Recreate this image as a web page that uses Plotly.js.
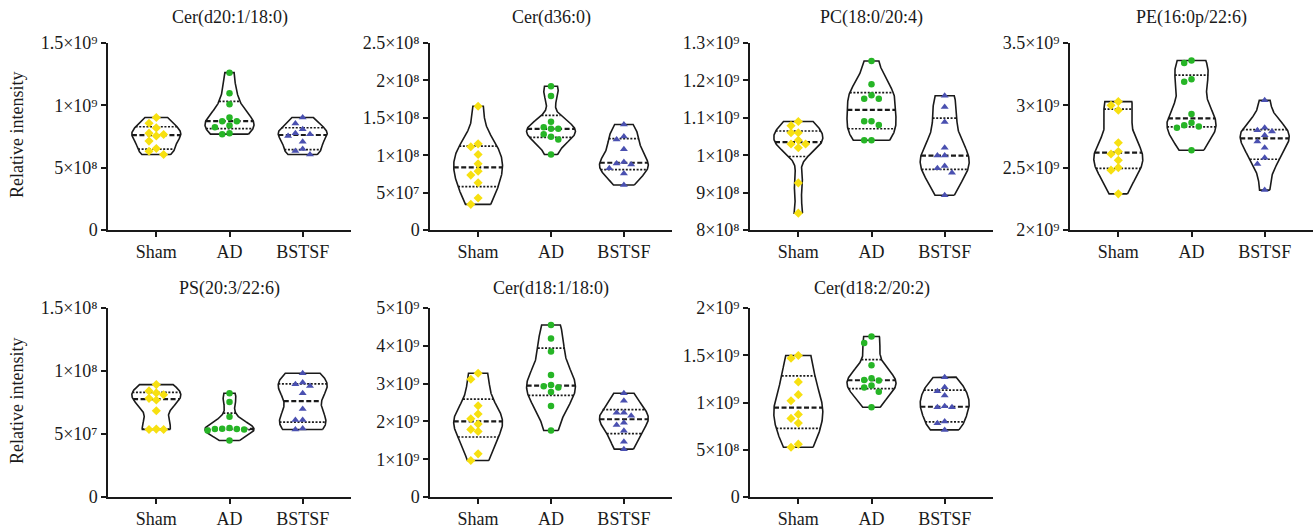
<!DOCTYPE html>
<html><head><meta charset="utf-8">
<script src="https://cdn.plot.ly/plotly-3.0.1.min.js"></script>
<style>html,body{margin:0;padding:0;background:#fff}#chart{width:1316px;height:531px}</style>
</head><body><div id="chart"></div>
<script>
// ---------- data ----------
const groups = ['Sham', 'AD', 'BSTSF'];
const yTitle = 'Relative intensity';

const cerD20_1_18_0_sham  = [9.02e8, 8.56e8, 8.19e8, 7.77e8, 7.66e8, 7.55e8, 7.13e8, 6.54e8, 6.32e8, 6.06e8];
const cerD20_1_18_0_ad    = [1.262e9, 1.097e9, 1.009e9, 9.02e8, 8.73e8, 8.73e8, 8.38e8, 8.25e8, 7.77e8, 7.69e8];
const cerD20_1_18_0_bstsf = [9.02e8, 8.54e8, 8.09e8, 7.77e8, 7.69e8, 7.55e8, 7.07e8, 6.49e8, 6.33e8, 6.06e8];

const cerD36_0_sham  = [1.655e8, 1.152e8, 1.112e8, 1.010e8, 8.85e7, 7.87e7, 7.34e7, 6.32e7, 4.27e7, 3.43e7];
const cerD36_0_ad    = [1.922e8, 1.793e8, 1.446e8, 1.375e8, 1.352e8, 1.352e8, 1.281e8, 1.246e8, 1.210e8, 1.010e8];
const cerD36_0_bstsf = [1.411e8, 1.251e8, 1.211e8, 1.081e8, 9.08e7, 8.90e7, 8.77e7, 8.24e7, 7.57e7, 6.01e7];

const pc18_0_20_4_sham  = [1.090e9, 1.079e9, 1.060e9, 1.060e9, 1.040e9, 1.030e9, 1.030e9, 1.020e9, 9.26e8, 8.45e8];
const pc18_0_20_4_ad    = [1.252e9, 1.190e9, 1.160e9, 1.151e9, 1.151e9, 1.091e9, 1.091e9, 1.081e9, 1.040e9, 1.040e9];
const pc18_0_20_4_bstsf = [1.159e9, 1.129e9, 1.089e9, 1.020e9, 9.99e8, 9.99e8, 9.71e8, 9.65e8, 9.53e8, 8.93e8];

const pe16_0p_22_6_sham  = [3.03e9, 3.00e9, 2.96e9, 2.70e9, 2.63e9, 2.61e9, 2.56e9, 2.50e9, 2.48e9, 2.29e9];
const pe16_0p_22_6_ad    = [3.36e9, 3.34e9, 3.21e9, 3.19e9, 2.93e9, 2.86e9, 2.84e9, 2.83e9, 2.82e9, 2.64e9];
const pe16_0p_22_6_bstsf = [3.04e9, 2.82e9, 2.80e9, 2.79e9, 2.76e9, 2.71e9, 2.66e9, 2.58e9, 2.53e9, 2.32e9];

const ps20_3_22_6_sham  = [8.92e7, 8.42e7, 8.26e7, 8.12e7, 7.83e7, 7.70e7, 6.85e7, 5.39e7, 5.36e7, 5.36e7];
const ps20_3_22_6_ad    = [8.23e7, 7.54e7, 6.37e7, 5.47e7, 5.41e7, 5.39e7, 5.39e7, 5.36e7, 5.28e7, 4.49e7];
const ps20_3_22_6_bstsf = [9.82e7, 9.08e7, 8.95e7, 8.81e7, 8.23e7, 6.98e7, 6.11e7, 6.11e7, 5.44e7, 5.36e7];

const cerD18_1_18_0_sham  = [3.274e9, 3.115e9, 2.416e9, 2.195e9, 2.071e9, 1.929e9, 1.788e9, 1.735e9, 1.142e9, 9.65e8];
const cerD18_1_18_0_ad    = [4.549e9, 4.195e9, 3.850e9, 3.230e9, 2.965e9, 2.930e9, 2.900e9, 2.779e9, 2.407e9, 1.761e9];
const cerD18_1_18_0_bstsf = [2.745e9, 2.549e9, 2.230e9, 2.230e9, 2.150e9, 1.965e9, 1.903e9, 1.752e9, 1.460e9, 1.266e9];

const cerD18_2_20_2_sham  = [1.497e9, 1.469e9, 1.218e9, 1.083e9, 1.019e9, 8.74e8, 8.32e8, 7.82e8, 5.59e8, 5.27e8];
const cerD18_2_20_2_ad    = [1.699e9, 1.629e9, 1.395e9, 1.257e9, 1.239e9, 1.232e9, 1.179e9, 1.158e9, 1.115e9, 9.49e8];
const cerD18_2_20_2_bstsf = [1.268e9, 1.162e9, 1.120e9, 1.073e9, 9.60e8, 9.50e8, 9.50e8, 8.00e8, 7.80e8, 7.10e8];

// tick values / labels
const ticks1 = [0, 5e8, 1e9, 1.5e9];
const labels1 = ['0', '5×10⁸', '1×10⁹', '1.5×10⁹'];
const ticks2 = [0, 5e7, 1e8, 1.5e8, 2e8, 2.5e8];
const labels2 = ['0', '5×10⁷', '1×10⁸', '1.5×10⁸', '2×10⁸', '2.5×10⁸'];
const ticks3 = [8e8, 9e8, 1e9, 1.1e9, 1.2e9, 1.3e9];
const labels3 = ['8×10⁸', '9×10⁸', '1×10⁸', '1.1×10⁹', '1.2×10⁹', '1.3×10⁹'];
const ticks4 = [2e9, 2.5e9, 3e9, 3.5e9];
const labels4 = ['2×10⁹', '2.5×10⁹', '3×10⁹', '3.5×10⁹'];
const ticks5 = [0, 5e7, 1e8, 1.5e8];
const labels5 = ['0', '5×10⁷', '1×10⁸', '1.5×10⁸'];
const ticks6 = [0, 1e9, 2e9, 3e9, 4e9, 5e9];
const labels6 = ['0', '1×10⁹', '2×10⁹', '3×10⁹', '4×10⁹', '5×10⁹'];
const ticks7 = [0, 5e8, 1e9, 1.5e9, 2e9];
const labels7 = ['0', '5×10⁸', '1×10⁹', '1.5×10⁹', '2×10⁹'];

const panels = [
  {title: 'Cer(d20:1/18:0)', data: [cerD20_1_18_0_sham, cerD20_1_18_0_ad, cerD20_1_18_0_bstsf], tv: ticks1, tt: labels1, row: 0, col: 0},
  {title: 'Cer(d36:0)',      data: [cerD36_0_sham, cerD36_0_ad, cerD36_0_bstsf],                tv: ticks2, tt: labels2, row: 0, col: 1},
  {title: 'PC(18:0/20:4)',   data: [pc18_0_20_4_sham, pc18_0_20_4_ad, pc18_0_20_4_bstsf],       tv: ticks3, tt: labels3, row: 0, col: 2},
  {title: 'PE(16:0p/22:6)',  data: [pe16_0p_22_6_sham, pe16_0p_22_6_ad, pe16_0p_22_6_bstsf],    tv: ticks4, tt: labels4, row: 0, col: 3},
  {title: 'PS(20:3/22:6)',   data: [ps20_3_22_6_sham, ps20_3_22_6_ad, ps20_3_22_6_bstsf],       tv: ticks5, tt: labels5, row: 1, col: 0},
  {title: 'Cer(d18:1/18:0)', data: [cerD18_1_18_0_sham, cerD18_1_18_0_ad, cerD18_1_18_0_bstsf], tv: ticks6, tt: labels6, row: 1, col: 1},
  {title: 'Cer(d18:2/20:2)', data: [cerD18_2_20_2_sham, cerD18_2_20_2_ad, cerD18_2_20_2_bstsf], tv: ticks7, tt: labels7, row: 1, col: 2}
];

// ---------- styling ----------
const W = 1316, H = 531;
const colPx = [[108, 351], [430, 672], [750, 993], [1070, 1313]];
const rowPx = [[43, 230], [308, 497]];       // top, bottom in px
const titleY = [17, 288];
const yTitleY = [135, 401];
const xRange = [-0.66, 2.66];
const colors = ['#F7E010', '#26B526', '#4A50B0'];
const symbols = ['diamond', 'circle', 'triangle-up'];
const msize = [7, 6.5, 7];
const FONT = 'Liberation Serif';
const FS = 18;
const INK = '#1a1a1a';
const HALFW = 0.335;   // max half width of a violin in category units

function quantile(asc, p) {
  const n = asc.length, pos = (n + 1) * p;
  if (pos <= 1) return asc[0];
  if (pos >= n) return asc[n - 1];
  const lo = Math.floor(pos), f = pos - lo;
  return asc[lo - 1] + f * (asc[lo] - asc[lo - 1]);
}
function bandwidth(v) {
  const n = v.length, m = v.reduce((a, b) => a + b, 0) / n;
  const sd = Math.sqrt(v.reduce((a, b) => a + (b - m) * (b - m), 0) / (n - 1));
  const asc = v.slice().sort((a, b) => a - b);
  const iqr = quantile(asc, 0.75) - quantile(asc, 0.25);
  let s = Math.min(sd, iqr / 1.34);
  if (!(s > 0)) s = sd;
  return 0.9 * s * Math.pow(n, -0.2);
}
function dens(v, h, y) {
  let s = 0;
  for (const x of v) { const z = (y - x) / h; s += Math.exp(-0.5 * z * z); }
  return s;
}

const traces = [];
const layout = {
  width: W, height: H, margin: {l: 0, r: 0, t: 0, b: 0},
  paper_bgcolor: '#fff', plot_bgcolor: 'rgba(0,0,0,0)',
  showlegend: false, font: {family: FONT, size: FS, color: INK},
  annotations: []
};

panels.forEach((p, i) => {
  const k = i + 1;
  const xa = 'xaxis' + (k === 1 ? '' : k), ya = 'yaxis' + (k === 1 ? '' : k);
  const xr = 'x' + (k === 1 ? '' : k), yr = 'y' + (k === 1 ? '' : k);
  const [x0, x1] = colPx[p.col];
  const [t, b] = rowPx[p.row];
  const yRange = [p.tv[0], p.tv[p.tv.length - 1]];
  layout[xa] = {
    domain: [x0 / W, x1 / W], range: xRange, anchor: yr,
    tickvals: [0, 1, 2], ticktext: groups, showgrid: false, zeroline: false,
    showline: true, linecolor: INK, linewidth: 1.5, ticks: 'outside', ticklen: 5,
    tickwidth: 1.5, tickcolor: INK, tickfont: {family: FONT, size: FS, color: INK}, fixedrange: true
  };
  layout[ya] = {
    domain: [(H - b) / H, (H - t) / H], range: yRange, anchor: xr,
    tickvals: p.tv, ticktext: p.tt, showgrid: false, zeroline: false,
    showline: true, linecolor: INK, linewidth: 1.5, ticks: 'outside', ticklen: 5,
    tickwidth: 1.5, tickcolor: INK, tickfont: {family: FONT, size: FS, color: INK}, fixedrange: true
  };
  layout.annotations.push({
    text: p.title, xref: 'paper', yref: 'paper', x: (x0 + x1) / 2 / W, y: (H - titleY[p.row]) / H,
    xanchor: 'center', yanchor: 'middle', showarrow: false, font: {family: FONT, size: FS, color: INK}
  });
  if (p.col === 0) {
    layout.annotations.push({
      text: yTitle, xref: 'paper', yref: 'paper', x: 17 / W, y: (H - yTitleY[p.row]) / H,
      xanchor: 'center', yanchor: 'middle', textangle: -90, showarrow: false,
      font: {family: FONT, size: FS, color: INK}
    });
  }
  const pxPerY = (b - t) / (yRange[1] - yRange[0]);
  const pxPerX = (x1 - x0) / (xRange[1] - xRange[0]);

  p.data.forEach((vals, g) => {
    const asc = vals.slice().sort((a, c) => a - c);
    const lo = asc[0], hi = asc[asc.length - 1];
    const h = bandwidth(vals);
    const N = 140, ys = [], ds = [];
    for (let j = 0; j <= N; j++) { const y = lo + (hi - lo) * j / N; ys.push(y); ds.push(dens(vals, h, y)); }
    const dmax = Math.max(...ds);
    const hw = y => HALFW * dens(vals, h, y) / dmax;
    const ox = [], oy = [];
    for (let j = 0; j <= N; j++) { ox.push(g + HALFW * ds[j] / dmax); oy.push(ys[j]); }
    for (let j = N; j >= 0; j--) { ox.push(g - HALFW * ds[j] / dmax); oy.push(ys[j]); }
    ox.push(ox[0]); oy.push(oy[0]);
    traces.push({type: 'scatter', mode: 'lines', x: ox, y: oy, xaxis: xr, yaxis: yr,
      fill: 'toself', fillcolor: '#ffffff', line: {color: INK, width: 1.6}, hoverinfo: 'skip'});
    [0.25, 0.75].forEach(q => {
      const v = quantile(asc, q), w = hw(v);
      traces.push({type: 'scatter', mode: 'lines', x: [g - w, g + w], y: [v, v], xaxis: xr, yaxis: yr,
        line: {color: INK, width: 1.7, dash: '2px,1.6px'}, hoverinfo: 'skip'});
    });
    const med = quantile(asc, 0.5), wm = hw(med);
    traces.push({type: 'scatter', mode: 'lines', x: [g - wm, g + wm], y: [med, med], xaxis: xr, yaxis: yr,
      line: {color: INK, width: 2.2, dash: '5px,2.5px'}, hoverinfo: 'skip'});

    // swarm placement of points
    const step = 7.3, D = 6.8;
    const order = vals.map((v, idx) => idx).sort((a, c) => vals[c] - vals[a]);
    const placed = [];
    const px = new Array(vals.length);
    order.forEach(idx => {
      const yy = vals[idx] * pxPerY;
      const cands = [0, -1, 1, -2, 2, -3, 3, -4, 4];
      let chosen = 0;
      for (const c of cands) {
        const xx = c * step;
        if (placed.every(pp => Math.hypot(pp.x - xx, pp.y - yy) >= D)) { chosen = xx; break; }
      }
      placed.push({x: chosen, y: yy});
      px[idx] = g + chosen / pxPerX;
    });
    traces.push({type: 'scatter', mode: 'markers', x: px, y: vals, xaxis: xr, yaxis: yr,
      marker: {color: colors[g], symbol: symbols[g], size: msize[g], line: {width: 0}}, hoverinfo: 'y'});
  });
});

Plotly.newPlot('chart', traces, layout, {displayModeBar: false});
</script>
</body></html>
